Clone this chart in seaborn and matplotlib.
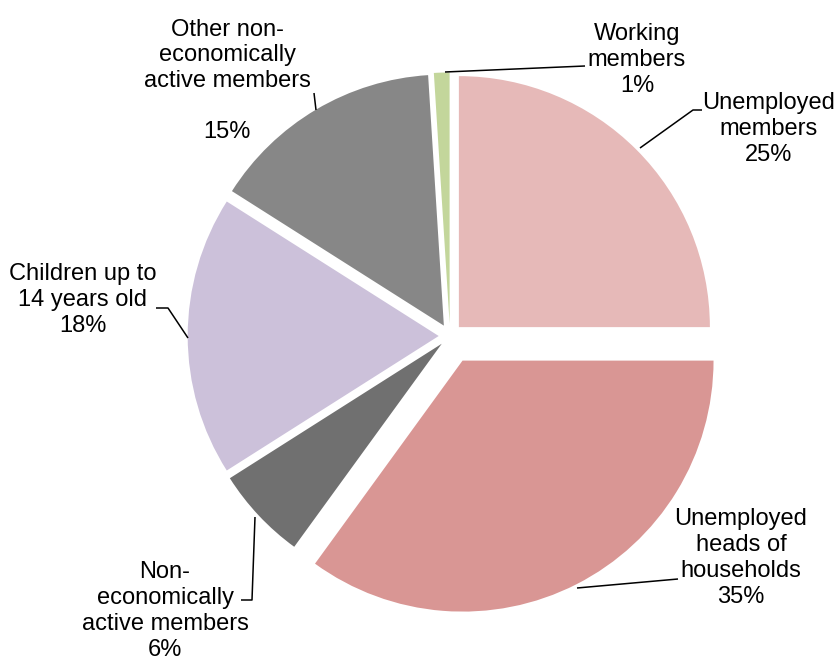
import matplotlib
matplotlib.use("Agg")
import matplotlib.pyplot as plt
import seaborn as sns

# Household members by economic status (share, %)
categories = [
    "Unemployed\nmembers",
    "Unemployed\nheads of\nhouseholds",
    "Non-\neconomically\nactive members",
    "Children up to\n14 years old",
    "Other non-\neconomically\nactive members\n",
    "Working\nmembers",
]
shares = [25, 35, 6, 18, 15, 1]
colors = ["#E6B9B8", "#D99694", "#707070", "#CCC1DA", "#878787", "#C3D69B"]
explode = [0.05, 0.11, 0.045, 0.045, 0.048, 0.05]

sns.set_theme(style="white")
plt.rcParams["font.family"] = ["Liberation Sans", "DejaVu Sans"]

W, H = 838, 657
fig = plt.figure(figsize=(W / 100, H / 100), dpi=100)
ax = fig.add_axes([0, 0, 1, 1])

ax.pie(shares, colors=sns.color_palette(colors), explode=explode,
       startangle=90, counterclock=False, radius=1.0,
       wedgeprops=dict(linewidth=0))

# pie centre and radius in pixels
CX, CY, R = 450, 336, 251
ax.set_xlim(-CX / R, (W - CX) / R)
ax.set_ylim(-(H - CY) / R, CY / R)
ax.set_aspect("equal")
ax.axis("off")


def P(px, py):
    return ((px - CX) / R, (CY - py) / R)


# label centre (pixels) and leader polyline (pixels) for each slice
label_pos = [(769, 129), (741, 558), (165, 611), (83, 300), (227, 81), (637, 60)]
leaders = [
    [(640, 148), (693, 110), (702, 110)],
    [(577, 588), (678, 579)],
    [(255, 517), (252, 600), (241, 600)],
    [(188, 338), (168, 308), (156, 308)],
    [(316, 110), (314, 93)],
    [(445, 72), (585, 66)],
]

for cat, val, (lx, ly), pts in zip(categories, shares, label_pos, leaders):
    xs, ys = zip(*[P(*p) for p in pts])
    ax.plot(xs, ys, color="black", lw=1.1, solid_capstyle="butt")
    tx, ty = P(lx, ly)
    ax.text(tx, ty, f"{cat}\n{val}%", ha="center", va="center",
            fontsize=17, linespacing=1.22, color="black")

fig.savefig("out.png", dpi=100)
